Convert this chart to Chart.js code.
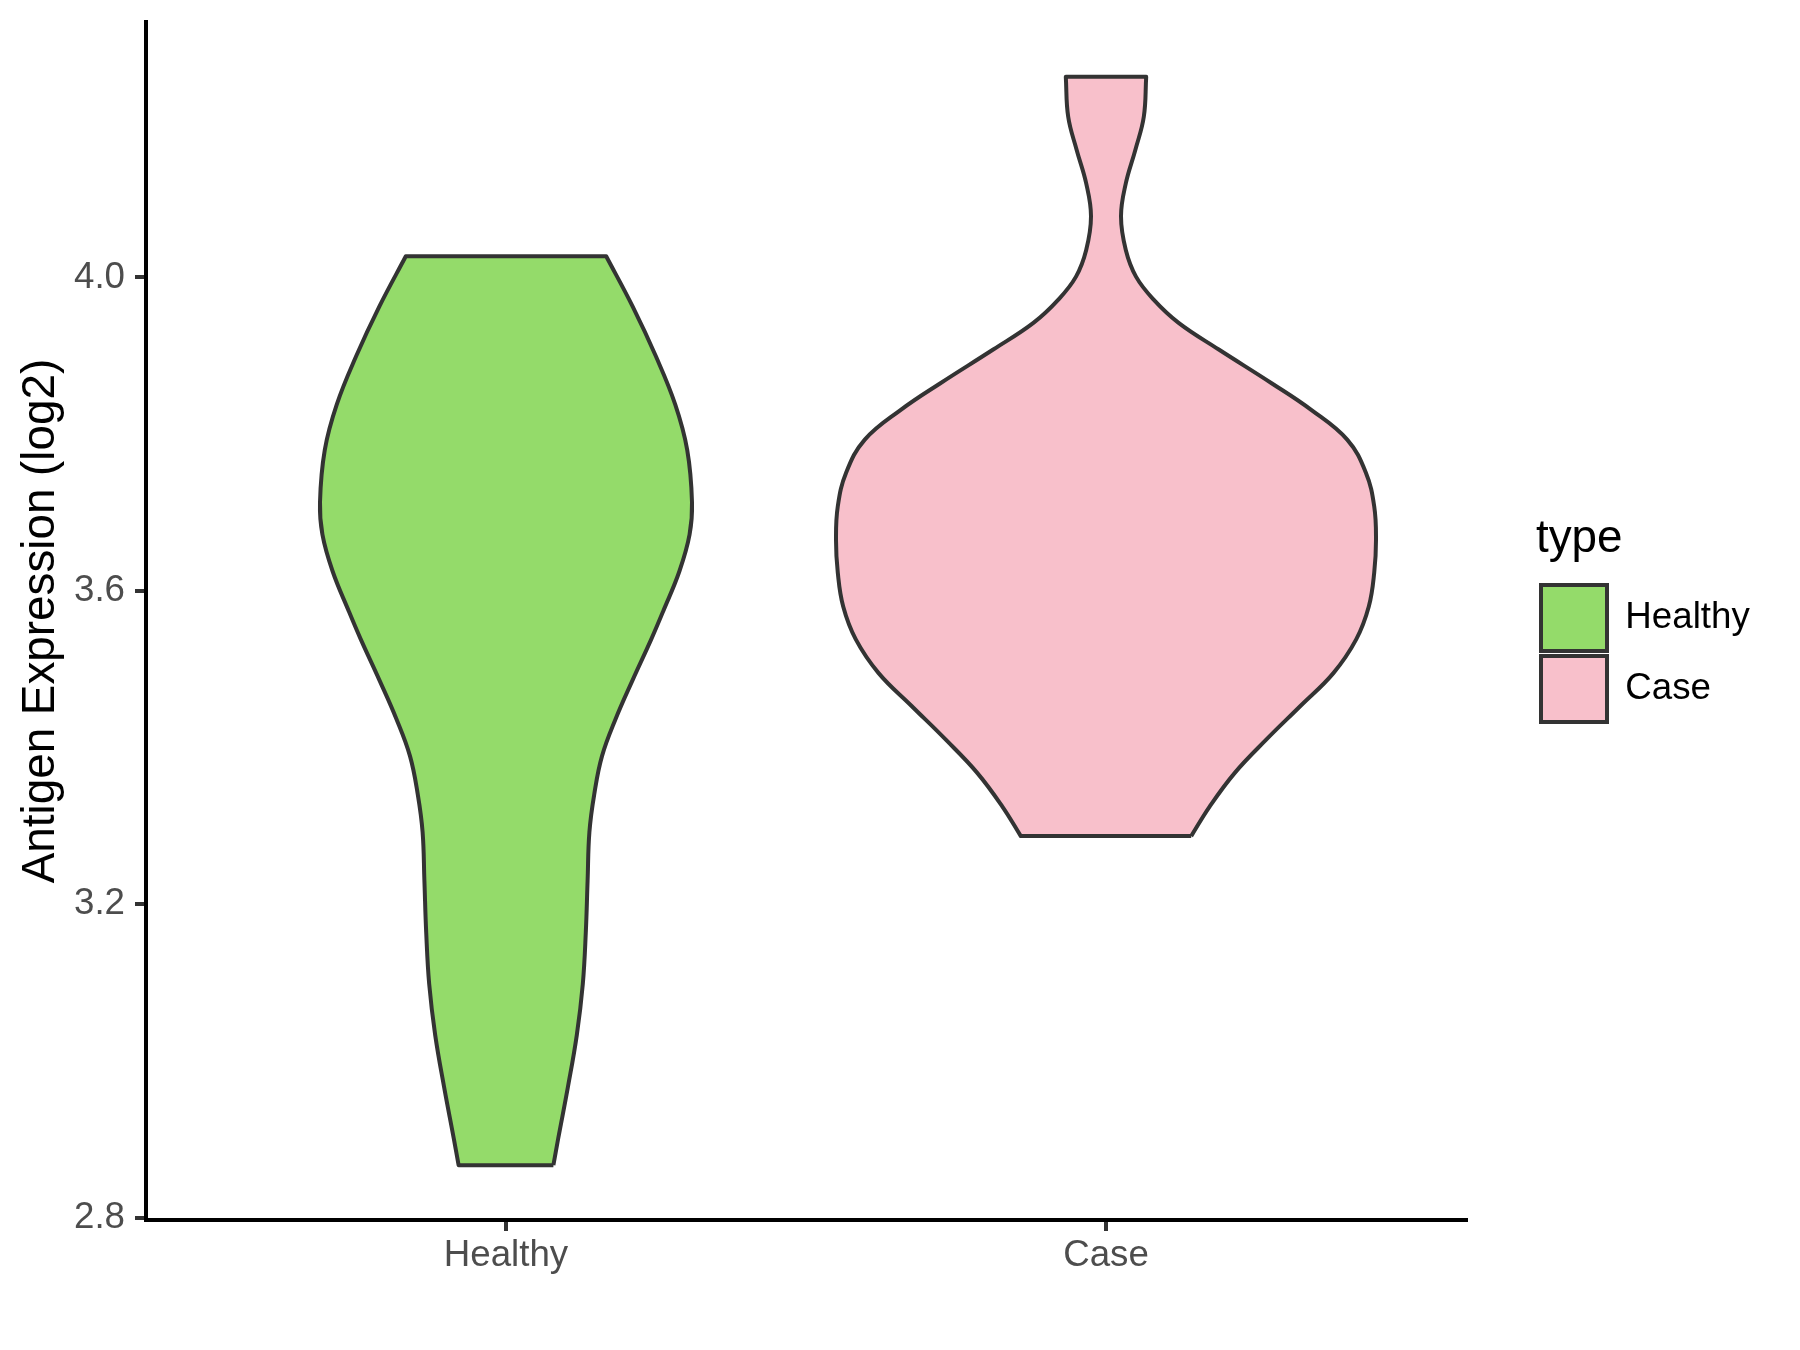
<!DOCTYPE html>
<html>
<head>
<meta charset="utf-8">
<script src="https://cdn.jsdelivr.net/npm/chart.js@4.4.1/dist/chart.umd.min.js"></script>
<style>
  html, body { margin: 0; padding: 0; background: #ffffff; }
  #wrap { width: 1800px; height: 1350px; }
</style>
</head>
<body>
<div id="wrap"><canvas id="violinChart" width="1800" height="1350"></canvas></div>
<script>
const categories = ["Healthy", "Case"];
const fillColors = ["#94DB6A", "#F8C0CB"];
const yTicks = [2.8, 3.2, 3.6, 4.0];
const yMin = 2.797;
const yMax = 4.326;

// violin outlines: expression value and half width (x units)
const healthyY = [2.867, 2.901, 2.966, 3.033, 3.098, 3.164, 3.230, 3.292, 3.340, 3.389, 3.437, 3.486,
  3.538, 3.574, 3.625, 3.672, 3.713, 3.780, 3.838, 3.899, 3.963, 4.027];
const healthyHalf = [0.079, 0.087, 0.103, 0.118, 0.128, 0.133, 0.136, 0.139, 0.147, 0.160, 0.183, 0.211,
  0.242, 0.262, 0.289, 0.306, 0.310, 0.302, 0.282, 0.250, 0.211, 0.167];

const caseY = [3.287, 3.325, 3.368, 3.410, 3.453, 3.495, 3.538, 3.580, 3.623, 3.665, 3.708, 3.751, 3.793,
  3.831, 3.865, 3.908, 3.942, 3.972, 4.001, 4.035, 4.078, 4.120, 4.163, 4.205, 4.256];
const caseHalf = [0.142, 0.173, 0.215, 0.267, 0.324, 0.379, 0.417, 0.438, 0.447, 0.450, 0.447, 0.433, 0.402,
  0.342, 0.276, 0.188, 0.121, 0.079, 0.050, 0.033, 0.025, 0.033, 0.049, 0.063, 0.067];

const FONT = "'Liberation Sans', Arial, sans-serif";

function violinOutline(center, ys, halves) {
  const n = ys.length;
  const right = ys.map((y, i) => ({ x: center + halves[i], y: y }));
  const left = ys.map((y, i) => ({ x: center - halves[i], y: y })).reverse();
  // corners are doubled so the spline keeps the trimmed ends flat
  return [...right, { ...right[n - 1] }, { ...left[0] }, ...left, { ...left[n - 1] }, { ...right[0] }];
}

const violinFill = {
  id: "violinFill",
  beforeDatasetDraw(chart, args) {
    const line = args.meta.dataset;
    if (!line) return;
    const ctx = chart.ctx;
    const area = chart.chartArea;
    line.updateControlPoints(area, "x");
    ctx.save();
    ctx.beginPath();
    ctx.rect(area.left, area.top, area.right - area.left, area.bottom - area.top);
    ctx.clip();
    ctx.beginPath();
    line.path(ctx);
    ctx.closePath();
    ctx.fillStyle = chart.data.datasets[args.index].backgroundColor;
    ctx.fill();
    ctx.restore();
  }
};

function axisGrid() {
  return { display: true, drawOnChartArea: false, drawTicks: true, tickLength: 11, color: "#333333", lineWidth: 4 };
}

// fixed axis sizes, and no extra room reserved for end labels
function fixSize(size) {
  return scale => {
    if (scale.isHorizontal()) scale.height = size;
    else scale.width = size;
    scale.paddingTop = 0;
    scale.paddingBottom = 0;
    scale.paddingLeft = 0;
    scale.paddingRight = 0;
  };
}

const datasets = [
  { label: categories[0], data: violinOutline(1, healthyY, healthyHalf), backgroundColor: fillColors[0] },
  { label: categories[1], data: violinOutline(2, caseY, caseHalf), backgroundColor: fillColors[1] }
].map(ds => ({
  ...ds,
  showLine: true,
  fill: false,
  tension: 0.4,
  borderColor: "#333333",
  borderWidth: 4,
  borderJoinStyle: "round",
  pointRadius: 0,
  pointHoverRadius: 0
}));

Chart.defaults.font.family = FONT;

new Chart(document.getElementById("violinChart"), {
  type: "scatter",
  data: { datasets },
  plugins: [violinFill],
  options: {
    responsive: false,
    devicePixelRatio: 1,
    animation: false,
    events: [],
    layout: { padding: { left: 0, right: 44, top: 22, bottom: 0 } },
    scales: {
      x: {
        type: "linear",
        position: "bottom",
        min: 0.4,
        max: 2.6,
        bounds: "data",
        afterBuildTicks: scale => { scale.ticks = categories.map((_, i) => ({ value: i + 1 })); },
        afterFit: fixSize(130),
        ticks: {
          callback: value => categories[Math.round(value) - 1],
          color: "#4D4D4D",
          font: { size: 36.7, lineHeight: 1.2 },
          padding: 2.6,
          autoSkip: false,
          maxRotation: 0
        },
        grid: axisGrid(),
        border: { display: true, color: "#000000", width: 4 }
      },
      y: {
        type: "linear",
        position: "left",
        min: yMin,
        max: yMax,
        bounds: "data",
        afterBuildTicks: scale => { scale.ticks = yTicks.map(v => ({ value: v })); },
        afterFit: fixSize(146),
        ticks: {
          callback: value => Number(value).toFixed(1),
          color: "#4D4D4D",
          font: { size: 36.7, lineHeight: 1.2 },
          padding: 10
        },
        grid: axisGrid(),
        border: { display: true, color: "#000000", width: 4 },
        title: {
          display: true,
          text: "Antigen Expression (log2)",
          color: "#000000",
          font: { size: 45.8, lineHeight: 1.2 },
          padding: { top: 14, bottom: 0 }
        }
      },
      // empty spacer between the panel and the legend
      gap: {
        type: "linear",
        position: "right",
        display: true,
        grid: { display: false },
        border: { display: false },
        ticks: { display: false },
        afterFit: fixSize(70)
      }
    },
    plugins: {
      tooltip: { enabled: false },
      legend: {
        position: "right",
        align: "center",
        fullSize: false,
        maxWidth: 220,
        title: {
          display: true,
          text: "type",
          position: "start",
          color: "#000000",
          font: { size: 45.8, lineHeight: 1.2 },
          padding: { top: 1, bottom: 9 }
        },
        labels: {
          boxWidth: 66,
          boxHeight: 66,
          padding: 5,
          color: "#000000",
          font: { size: 36.7 },
          generateLabels: () => categories.map((name, i) => ({
            text: name,
            fillStyle: fillColors[i],
            strokeStyle: "#333333",
            lineWidth: 4,
            fontColor: "#000000",
            hidden: false,
            datasetIndex: i
          }))
        }
      }
    }
  }
});
</script>
</body>
</html>
